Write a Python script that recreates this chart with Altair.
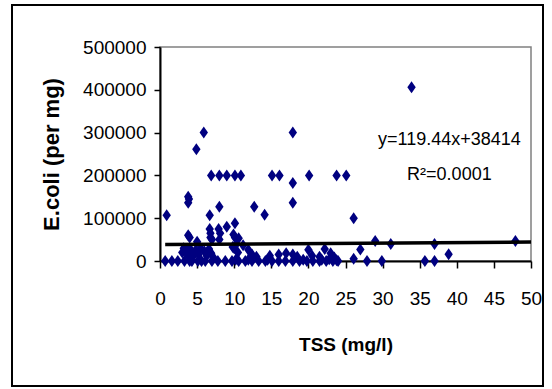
import altair as alt
import pandas as pd

# --- data ---
tss_high = [0.9, 3.8, 3.9, 3.8, 4.9, 5.9, 6.7, 8.0, 6.9, 8.0, 9.0, 10.1, 10.9, 12.7, 14.1,
            15.1, 16.1, 17.9, 17.9, 17.9, 20.1, 23.8, 25.1, 26.1, 33.9]
ecoli_high = [107000, 150000, 145000, 136000, 261000, 300000, 107000, 127000, 200000, 200000,
              200000, 200000, 200000, 127000, 108000, 200000, 200000, 300000, 182000, 136000,
              200000, 200000, 200000, 100000, 406000]

tss_mid = [3.8, 4.0, 5.0, 6.7, 6.8, 6.8, 7.0, 7.9, 8.0, 8.1, 9.0, 10.1, 9.9, 10.1, 10.6, 10.3, 10.0]
ecoli_mid = [60000, 55000, 45000, 75000, 65000, 55000, 50000, 75000, 50000, 65000,
             80000, 88000, 62000, 55000, 53000, 40000, 30000]

tss_low = [3.0, 3.2, 3.5, 3.7, 4.0, 4.2, 4.5, 4.8, 5.2, 5.5, 6.0, 6.3, 6.6, 6.9, 7.2, 9.8,
           10.5, 11.2, 11.9, 12.4, 13.0, 14.8, 16.0, 17.0, 17.9, 18.5, 20.0, 20.5, 21.5,
           22.2, 23.0, 23.5]
ecoli_low = [20000, 30000, 25000, 15000, 30000, 20000, 12000, 25000, 15000, 30000, 22000,
             12000, 28000, 18000, 8000, 33000, 20000, 37000, 26000, 15000, 10000, 12000,
             15000, 18000, 15000, 10000, 26000, 12000, 10000, 28000, 18000, 8000]

tss_zero = [0.7, 1.6, 2.4, 3.3, 4.0, 4.3, 5.1, 5.6, 6.1, 7.0, 7.8, 8.8, 9.7, 10.6, 11.5,
            12.4, 13.3, 14.2, 15.1, 16.0, 16.9, 17.9, 18.8, 19.8, 20.6, 21.5, 22.4, 23.3,
            24.0, 27.9, 29.9, 35.7, 37.0, 10.2, 11.9, 14.5, 19.3, 21.8, 22.8, 23.8]
ecoli_zero = [0] * 33 + [3000, 3000, 3000, 3000, 3000, 4000, 2000]

tss_right = [26.1, 27.0, 29.0, 31.1, 37.0, 38.9, 47.9]
ecoli_right = [5000, 27000, 47000, 40000, 40000, 16000, 47000]

fit_slope = 119.44
fit_intercept = 38414
fit_x = [0.7, 50]
fit_y = [fit_slope * v + fit_intercept for v in fit_x]

eq_labels = ["y=119.44x+38414", "R\u00b2=0.0001"]
eq_x = [39.0, 39.0]
eq_y = [282000, 201000]

x_ticks = [0, 5, 10, 15, 20, 25, 30, 35, 40, 45, 50]
y_ticks = [0, 100000, 200000, 300000, 400000, 500000]

df = pd.DataFrame({
    "tss": tss_high + tss_mid + tss_low + tss_zero + tss_right,
    "ecoli": ecoli_high + ecoli_mid + ecoli_low + ecoli_zero + ecoli_right,
})
fit_df = pd.DataFrame({"tss": fit_x, "ecoli": fit_y})
eq_df = pd.DataFrame({"tss": eq_x, "ecoli": eq_y, "label": eq_labels})

FONT = "Liberation Sans"
x_scale = alt.Scale(domain=[0, 50], nice=False, zero=False)
y_scale = alt.Scale(domain=[0, 500000], nice=False)

x_axis = alt.Axis(title="TSS (mg/l)", values=x_ticks, format="d",
                  labelPadding=21, tickSize=7, titlePadding=27,
                  labelOverlap=False, labelFlush=False, labelSeparation=0)
y_axis = alt.Axis(title="E.coli (per mg)", values=y_ticks, format="d",
                  labelPadding=8, tickSize=6, titlePadding=19,
                  labelOverlap=False, labelFlush=False, titleFontSize=22)

diamond = "M0,-1L0.7,0L0,1L-0.7,0Z"

points = alt.Chart(df).mark_point(
    shape=diamond, filled=True, size=144, color="#000080", opacity=1
).encode(
    x=alt.X("tss:Q", scale=x_scale, axis=x_axis),
    y=alt.Y("ecoli:Q", scale=y_scale, axis=y_axis),
)

fit = alt.Chart(fit_df).mark_line(color="black", strokeWidth=3.5).encode(
    x=alt.X("tss:Q", scale=x_scale, axis=x_axis),
    y=alt.Y("ecoli:Q", scale=y_scale, axis=y_axis),
)

eq = alt.Chart(eq_df).mark_text(font=FONT, fontSize=18, color="black", align="center",
                                baseline="middle").encode(
    x=alt.X("tss:Q", scale=x_scale, axis=x_axis),
    y=alt.Y("ecoli:Q", scale=y_scale, axis=y_axis),
    text="label:N",
)

frame = alt.Chart(pd.DataFrame({"a": [0]})).mark_rect(
    fillOpacity=0, stroke="black", strokeWidth=2
).encode(x=alt.value(-148), x2=alt.value(383), y=alt.value(-42), y2=alt.value(339))

chart = alt.layer(points, fit, eq, frame).properties(
    width=371, height=214,
    autosize=alt.AutoSizeParams(type="none"),
    padding={"left": 160, "top": 47, "right": 21, "bottom": 128},
    background="white",
).configure_view(
    stroke="#808080", strokeWidth=1.5
).configure_axis(
    grid=False, domainColor="black", domainWidth=2, tickColor="black", tickWidth=1.5,
    labelFont=FONT, labelFontSize=19, labelColor="black", labelOverlap=False,
    titleFont=FONT, titleFontSize=19, titleFontWeight="bold", titleColor="black",
)

chart.save("out.html", embed_options={"renderer": "svg", "actions": False})
